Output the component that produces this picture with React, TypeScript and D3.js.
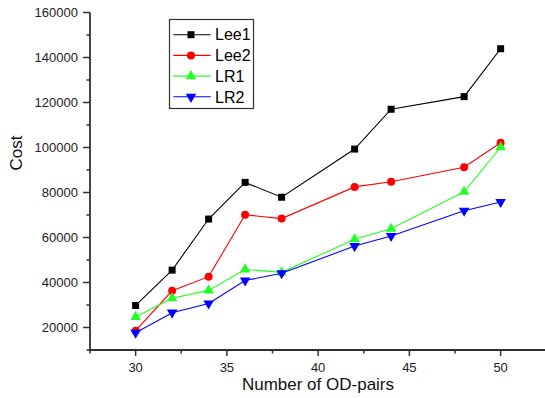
import * as d3 from 'd3';

const odPairs = [30, 32, 34, 36, 38, 42, 44, 48, 50];
const lee1 = [29800, 45500, 68200, 84500, 77900, 99300, 117000, 122600, 143900];
const lee2 = [18600, 36300, 42600, 70100, 68400, 82500, 84800, 91200, 102100];
const lr1 = [24700, 33000, 36500, 45800, 44500, 59200, 63900, 80300, 100100];
const lr2 = [17700, 26600, 30700, 40900, 44100, 56200, 60700, 71900, 75800];

const xTicks = [30, 35, 40, 45, 50];
const yTicks = [20000, 40000, 60000, 80000, 100000, 120000, 140000, 160000];

const seriesNames = ['Lee1', 'Lee2', 'LR1', 'LR2'];
const seriesColors = ['#000000', '#ff0000', '#22ff22', '#0000ff'];

const width = 545;
const height = 398;
const font = 'Arial, "Liberation Sans", sans-serif';

type Shape = 'square' | 'circle' | 'up' | 'down';
const shapes: Shape[] = ['square', 'circle', 'up', 'down'];

function Marker({ x, y, shape, color }: { x: number; y: number; shape: Shape; color: string }) {
  if (shape === 'square') return <rect x={x - 3.5} y={y - 3.5} width={7} height={7} fill={color} />;
  if (shape === 'circle') return <circle cx={x} cy={y} r={4} fill={color} />;
  const path = d3.symbol(d3.symbolTriangle, 48)() ?? '';
  return <path d={path} fill={color} transform={`translate(${x},${y})${shape === 'down' ? ' rotate(180)' : ''}`} />;
}

export default function App() {
  const x = d3.scaleLinear().domain([27.5, 52.5]).range([90, 546.25]);
  const y = d3.scaleLinear().domain([10000, 160000]).range([350, 12.5]);
  const data = [lee1, lee2, lr1, lr2];
  const line = d3
    .line<number>()
    .x((_, i) => x(odPairs[i]))
    .y((d) => y(d));

  const xMinor = d3.range(27.5, 53, 2.5).filter((v) => !xTicks.includes(v));
  const yMinor = d3.range(10000, 160001, 10000).filter((v) => !yTicks.includes(v));
  const axisColor = '#303030';

  return (
    <svg width={width} height={height} style={{ position: 'absolute', left: 0, top: 0, background: '#fff' }} fontFamily={font}>
      {/* series */}
      {data.map((values, s) => (
        <g key={seriesNames[s]}>
          <path d={line(values) ?? ''} fill="none" stroke={seriesColors[s]} strokeWidth={1.1} />
          {values.map((v, i) => (
            <Marker key={i} x={x(odPairs[i])} y={y(v)} shape={shapes[s]} color={seriesColors[s]} />
          ))}
        </g>
      ))}

      {/* axes */}
      <line x1={x.range()[0]} x2={width} y1={350} y2={350} stroke={axisColor} strokeWidth={1.8} />
      <line x1={90} x2={90} y1={y(160000)} y2={351} stroke={axisColor} strokeWidth={1.8} />
      {xTicks.map((t) => (
        <g key={t}>
          <line x1={x(t)} x2={x(t)} y1={350} y2={356} stroke={axisColor} strokeWidth={1.5} />
          <text x={x(t)} y={372} textAnchor="middle" fontSize={13} fill="#222">
            {t}
          </text>
        </g>
      ))}
      {xMinor.map((t) => (
        <line key={t} x1={x(t)} x2={x(t)} y1={350} y2={353.5} stroke={axisColor} strokeWidth={1.5} />
      ))}
      {yTicks.map((t) => (
        <g key={t}>
          <line x1={83} x2={90} y1={y(t)} y2={y(t)} stroke={axisColor} strokeWidth={1.5} />
          <text x={78} y={y(t)} dy="0.36em" textAnchor="end" fontSize={13} fill="#222">
            {t}
          </text>
        </g>
      ))}
      {yMinor.map((t) => (
        <line key={t} x1={86.5} x2={90} y1={y(t)} y2={y(t)} stroke={axisColor} strokeWidth={1.5} />
      ))}

      <text x={318} y={389.5} textAnchor="middle" fontSize={17} fill="#111">
        Number of OD-pairs
      </text>
      <text transform="translate(22,153) rotate(-90)" textAnchor="middle" fontSize={17} fill="#111">
        Cost
      </text>

      {/* legend */}
      <rect x={169.5} y={19.5} width={84} height={89} fill="#fff" stroke="#333" strokeWidth={1.2} />
      {seriesNames.map((name, s) => {
        const ly = 34.7 + s * 20.7;
        return (
          <g key={name}>
            <line x1={173.3} x2={210.7} y1={ly} y2={ly} stroke={seriesColors[s]} strokeWidth={1.1} />
            <Marker x={191} y={ly} shape={shapes[s]} color={seriesColors[s]} />
            <text x={215} y={ly} dy="0.36em" fontSize={16} fill="#000">
              {name}
            </text>
          </g>
        );
      })}
    </svg>
  );
}
